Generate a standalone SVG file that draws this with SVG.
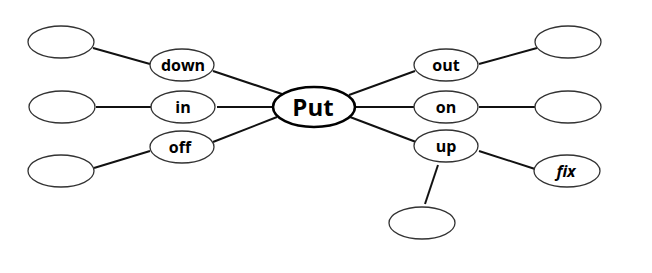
<svg xmlns="http://www.w3.org/2000/svg" width="652" height="273" viewBox="0 0 652 273">
<style>
.e{fill:#fff;stroke:#333;stroke-width:1.3}
.c{fill:#fff;stroke:#000;stroke-width:2.6}
.l{stroke:#111;stroke-width:2;fill:none}
text{font-family:"Open Sans","Liberation Sans",sans-serif;font-weight:bold;fill:#000;text-anchor:middle}
.t{font-size:16px}
.p{font-size:24px}
.i{font-style:italic}
</style>
<rect width="652" height="273" fill="#fff"/>
<g id="connectors">
<line class="l" x1="93" y1="48" x2="150" y2="64"/>
<line class="l" x1="213" y1="71" x2="282" y2="94"/>
<line class="l" x1="96" y1="107" x2="152" y2="107"/>
<line class="l" x1="217" y1="107" x2="273" y2="107"/>
<line class="l" x1="94" y1="168" x2="150" y2="151"/>
<line class="l" x1="213" y1="142" x2="277" y2="117"/>
<line class="l" x1="349" y1="95" x2="415" y2="71"/>
<line class="l" x1="479" y1="64" x2="537" y2="48"/>
<line class="l" x1="355" y1="107" x2="414" y2="107"/>
<line class="l" x1="479" y1="107" x2="535" y2="107"/>
<line class="l" x1="350" y1="117" x2="416" y2="142"/>
<line class="l" x1="479" y1="151" x2="535" y2="169"/>
<line class="l" x1="438" y1="165" x2="425" y2="204"/>
</g>
<g id="blank-tl"><ellipse class="e" cx="61" cy="42" rx="33" ry="16"/></g>
<g id="blank-ml"><ellipse class="e" cx="62" cy="107" rx="33" ry="16"/></g>
<g id="blank-bl"><ellipse class="e" cx="61" cy="171" rx="33" ry="16"/></g>
<g id="down"><ellipse class="e" cx="182" cy="65" rx="32" ry="16"/><text class="t" x="183" y="71">down</text></g>
<g id="in"><ellipse class="e" cx="183" cy="107" rx="32" ry="16"/><text class="t" x="183" y="113">in</text></g>
<g id="off"><ellipse class="e" cx="182" cy="147" rx="32" ry="16"/><text class="t" x="180" y="153">off</text></g>
<g id="put"><ellipse class="c" cx="314" cy="107" rx="41" ry="20"/><text class="p" x="313" y="115.5">Put</text></g>
<g id="out"><ellipse class="e" cx="446" cy="65" rx="32" ry="16"/><text class="t" x="446" y="71">out</text></g>
<g id="on"><ellipse class="e" cx="446" cy="107" rx="32" ry="16"/><text class="t" x="446" y="112.5">on</text></g>
<g id="up"><ellipse class="e" cx="446" cy="146" rx="32" ry="16"/><text class="t" x="446" y="152">up</text></g>
<g id="blank-tr"><ellipse class="e" cx="568" cy="42" rx="33" ry="16"/></g>
<g id="blank-mr"><ellipse class="e" cx="568" cy="107" rx="33" ry="16"/></g>
<g id="fix"><ellipse class="e" cx="567" cy="171" rx="33" ry="16"/><text class="t i" x="566" y="177">fix</text></g>
<g id="blank-b"><ellipse class="e" cx="422" cy="223" rx="33" ry="16"/></g>
</svg>
